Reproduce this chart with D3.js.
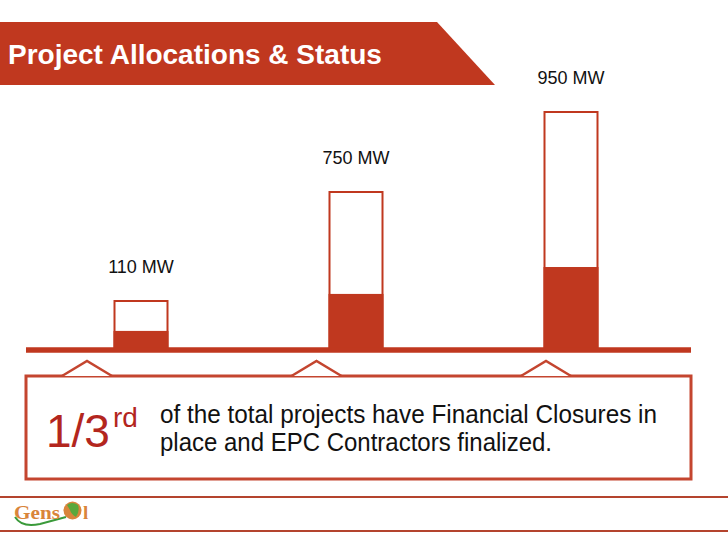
<!DOCTYPE html>
<html>
<head>
<meta charset="utf-8">
<script src="https://cdn.jsdelivr.net/npm/d3@7/dist/d3.min.js"></script>
<style>
  html, body { margin: 0; padding: 0; background: #fff; }
  svg { display: block; font-family: "Liberation Sans", Arial, sans-serif; }
</style>
</head>
<body>
<svg id="chart" width="728" height="546"></svg>
<script>
// ---- data ----
const projects = ["Project A", "Project B", "Project C"];
const allocatedMW = [110, 750, 950];
const closedMW = [40, 260, 326];          // portion with financial closure (filled part)
const unitLabel = "MW";
const titleText = "Project Allocations & Status";
const fractionMain = "1/3";
const fractionSup = "rd";
const noteLines = ["of the total projects have Financial Closures in",
                   "place and EPC Contractors finalized."];

const RED = "#c0381f";
const BOX = "#c4452f";
const FOOT = "#b4442e";

const svg = d3.select("#chart");

// ---- header banner ----
svg.append("path")
  .attr("d", d3.line()([[0, 22], [437, 22], [495, 85], [0, 85]]) + "Z")
  .attr("fill", RED);
svg.append("text")
  .attr("x", 8).attr("y", 64)
  .attr("fill", "#fff")
  .attr("font-weight", "bold")
  .attr("font-size", 28)
  .text(titleText);

// ---- scales ----
const baseY = 348;
const x = d3.scalePoint().domain(projects).range([141, 571]);
const y = d3.scaleLinear().domain([0, 110, 750, 950]).range([baseY, 301, 192, 112]);
const barW = 53;

const data = projects.map((p, i) => ({ p, total: allocatedMW[i], closed: closedMW[i] }));

// outline bars
svg.selectAll("rect.outline").data(data).join("rect")
  .attr("class", "outline")
  .attr("x", d => x(d.p) - barW / 2)
  .attr("y", d => y(d.total))
  .attr("width", barW)
  .attr("height", d => baseY - y(d.total))
  .attr("fill", "#fff")
  .attr("stroke", RED)
  .attr("stroke-width", 2);

// filled part
svg.selectAll("rect.fill").data(data).join("rect")
  .attr("class", "fill")
  .attr("x", d => x(d.p) - barW / 2 - 1)
  .attr("y", d => baseY - (baseY - y(d.total)) * d.closed / d.total)
  .attr("width", barW + 2)
  .attr("height", d => (baseY - y(d.total)) * d.closed / d.total)
  .attr("fill", RED);

// value labels
svg.selectAll("text.val").data(data).join("text")
  .attr("class", "val")
  .attr("x", d => x(d.p))
  .attr("y", d => y(d.total) - 28)
  .attr("text-anchor", "middle")
  .attr("font-size", 18)
  .attr("fill", "#111")
  .text(d => d.total + " " + unitLabel);

// baseline
svg.append("line")
  .attr("x1", 26).attr("x2", 691)
  .attr("y1", 350).attr("y2", 350)
  .attr("stroke", RED).attr("stroke-width", 5.5);

// ---- note box ----
svg.append("rect")
  .attr("x", 26).attr("y", 376)
  .attr("width", 665).attr("height", 103)
  .attr("fill", "#fff")
  .attr("stroke", BOX).attr("stroke-width", 3);

const tx = d3.scalePoint().domain(projects).range([87, 546]);
svg.selectAll("path.tri").data(data).join("path")
  .attr("class", "tri")
  .attr("d", d => d3.line()([[tx(d.p) - 25, 376], [tx(d.p), 361], [tx(d.p) + 25, 376]]))
  .attr("fill", "#fff")
  .attr("stroke", BOX).attr("stroke-width", 2.5);

svg.append("text")
  .attr("x", 46).attr("y", 447)
  .attr("fill", "#b3261e")
  .attr("font-size", 46)
  .text(fractionMain);
svg.append("text")
  .attr("x", 113).attr("y", 427)
  .attr("fill", "#b3261e")
  .attr("font-size", 28)
  .text(fractionSup);

svg.selectAll("text.note").data(noteLines).join("text")
  .attr("class", "note")
  .attr("x", 160)
  .attr("y", (d, i) => 423 + i * 28)
  .attr("font-size", 25)
  .attr("textLength", (d, i) => [497, 392][i])
  .attr("lengthAdjust", "spacingAndGlyphs")
  .attr("fill", "#111")
  .text(d => d);

// ---- footer ----
svg.selectAll("line.foot").data([497, 531]).join("line")
  .attr("class", "foot")
  .attr("x1", 0).attr("x2", 728)
  .attr("y1", d => d).attr("y2", d => d)
  .attr("stroke", FOOT).attr("stroke-width", 2);

// logo
svg.append("path")
  .attr("d", "M15,517 Q22,528 40,524 Q55,520 66,517")
  .attr("fill", "none").attr("stroke", "#3a9a3a").attr("stroke-width", 2);
svg.append("text")
  .attr("x", 14).attr("y", 519)
  .attr("font-family", "'Liberation Serif', serif")
  .attr("font-weight", "bold")
  .attr("font-size", 19)
  .attr("textLength", 46).attr("lengthAdjust", "spacingAndGlyphs")
  .attr("fill", "#d9853b")
  .text("Gens");
svg.append("circle")
  .attr("cx", 72.5).attr("cy", 510.5).attr("r", 9)
  .attr("fill", "#d9853b");
svg.append("path")
  .attr("d", "M67,505 Q72,501 78,505 Q80,511 76,517 Q71,514 70,510 Z")
  .attr("fill", "#5aa83c");
svg.append("text")
  .attr("x", 83).attr("y", 519)
  .attr("font-family", "'Liberation Serif', serif")
  .attr("font-weight", "bold")
  .attr("font-size", 19)
  .attr("fill", "#d9853b")
  .text("l");
</script>
</body>
</html>
